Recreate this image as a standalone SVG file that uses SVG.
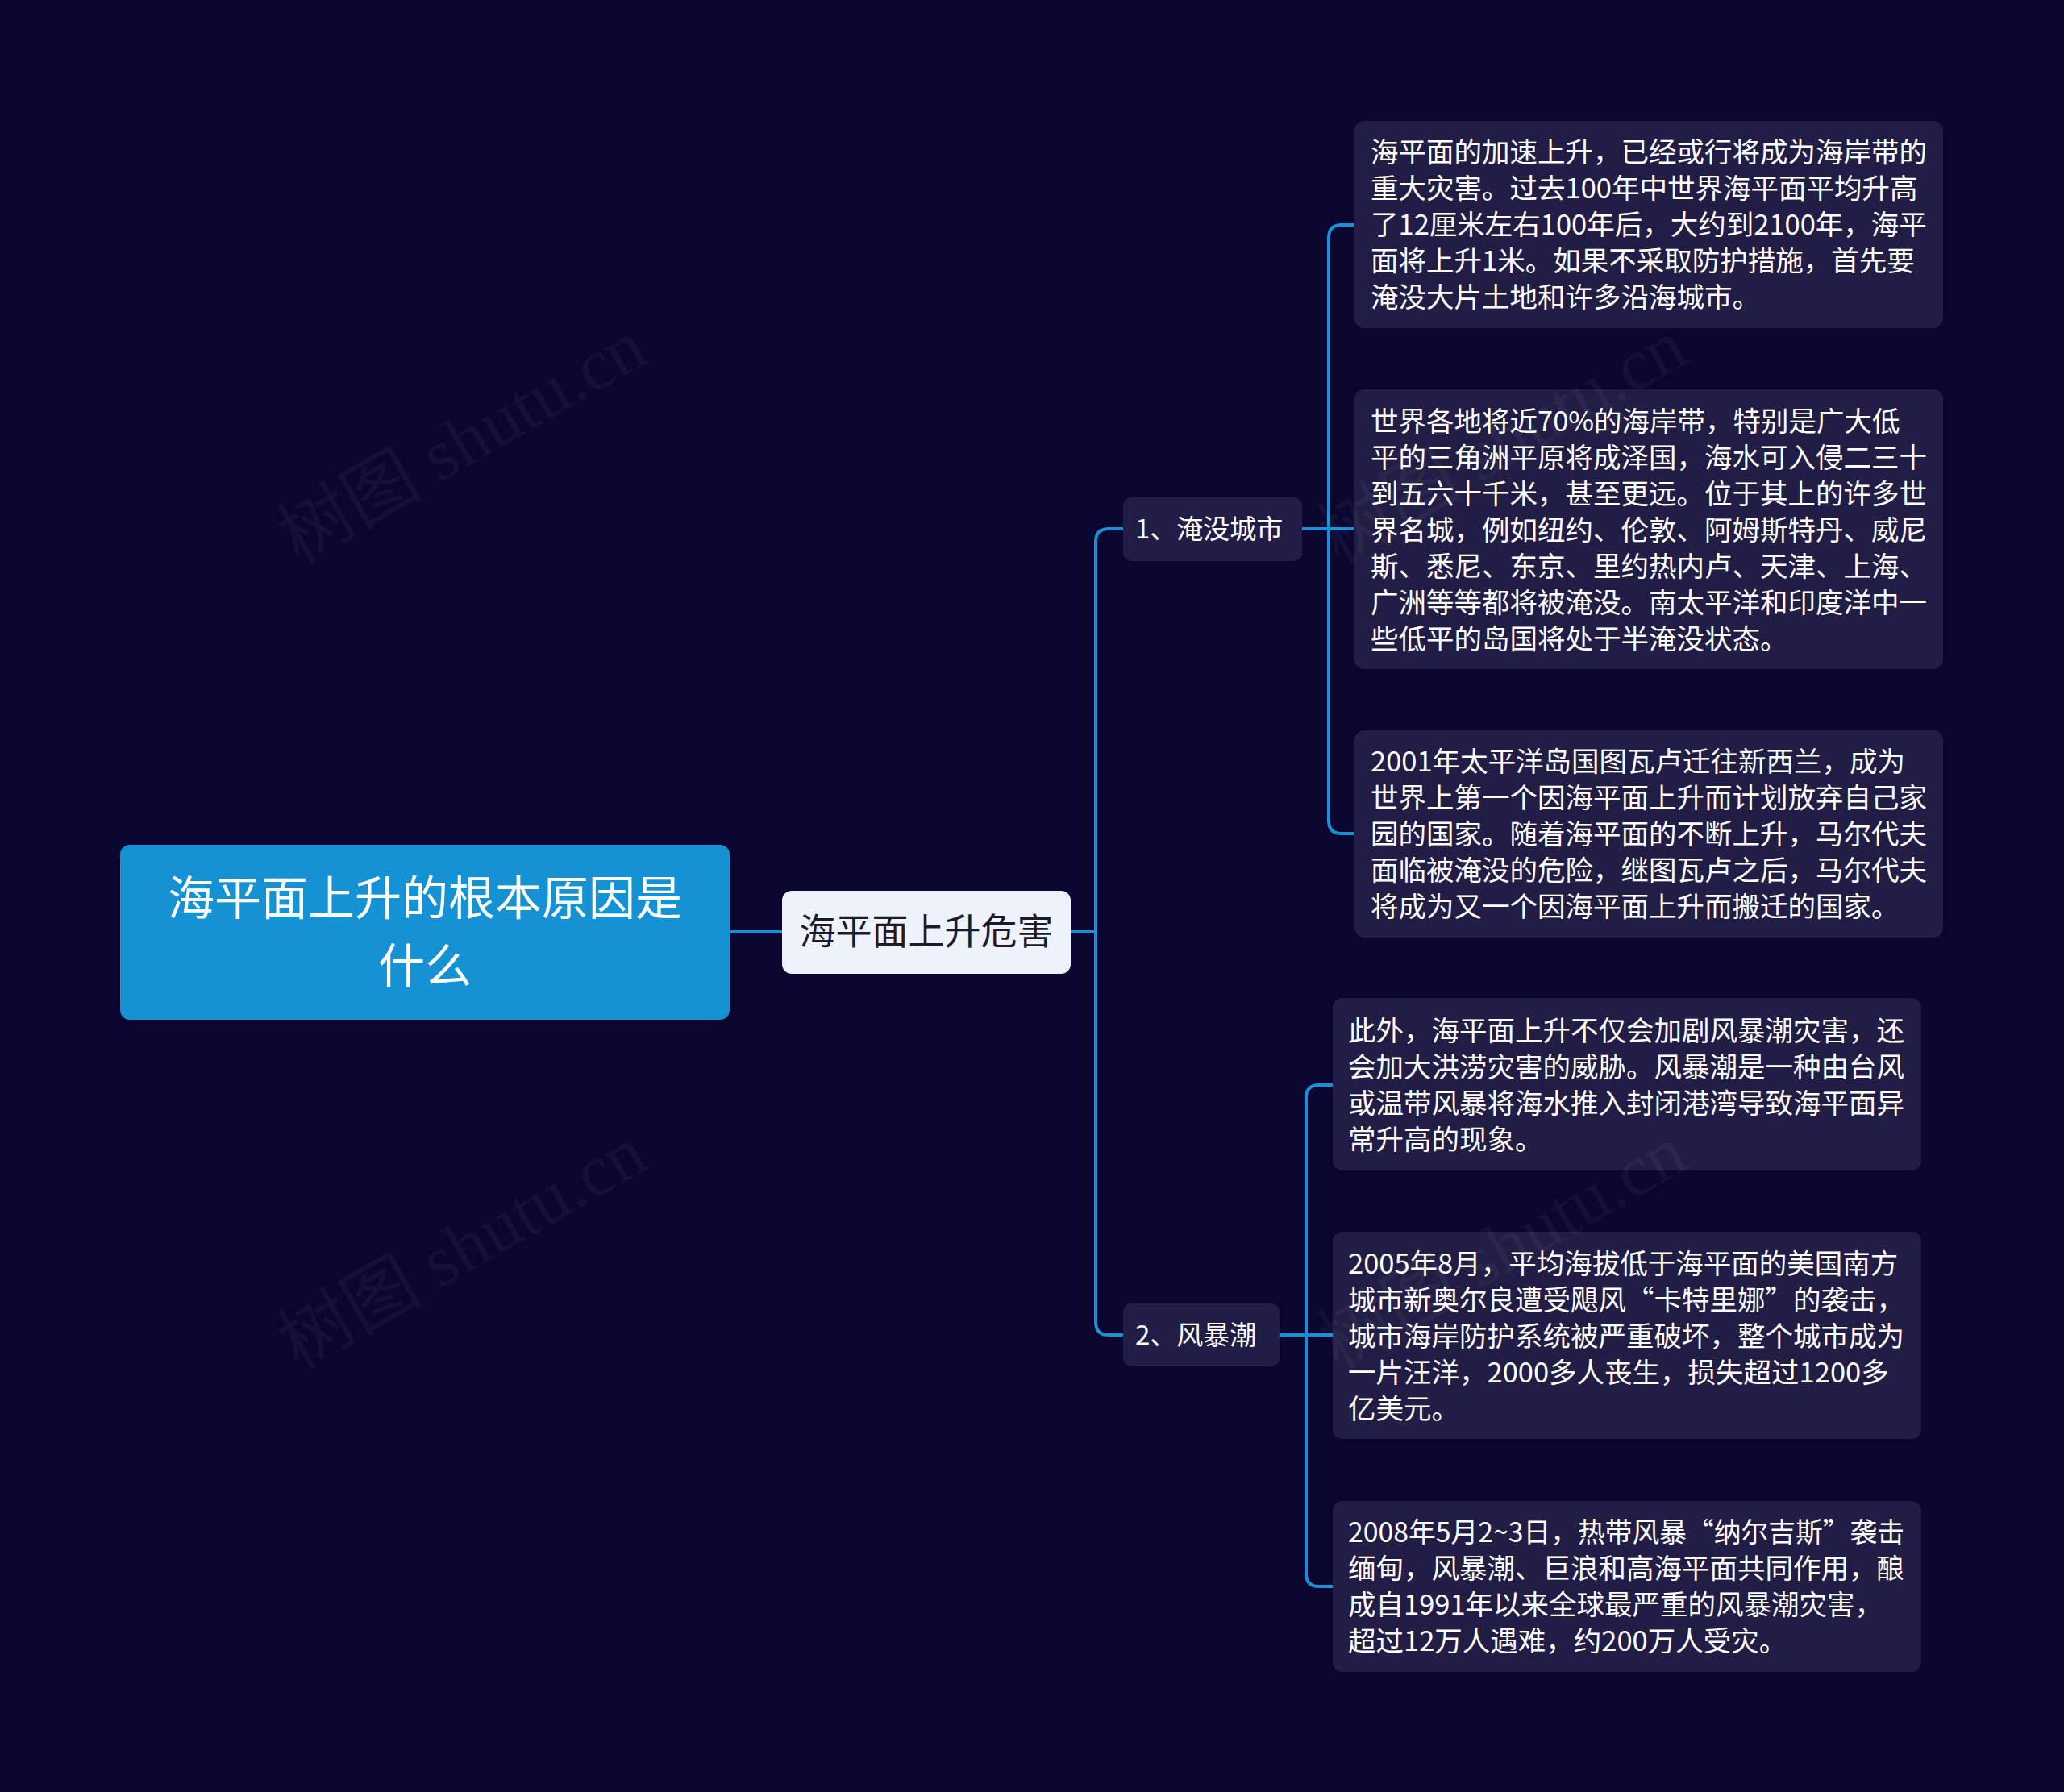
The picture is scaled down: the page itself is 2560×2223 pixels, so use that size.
<svg xmlns="http://www.w3.org/2000/svg" width="2560" height="2223" viewBox="0 0 2560 2223">
<style>
.t{font-family:"PingFang SC","Noto Sans CJK SC",sans-serif}
.leaf{fill:#221d45}
.lt{font-size:34.5px;fill:#ffffff}
.st{font-size:33px;fill:#ffffff}
.c{fill:none;stroke:#1a8fd6;stroke-width:4}
.wm{font-family:"Liberation Serif","Noto Sans CJK SC",serif;font-size:90px;fill:#ffffff;opacity:0.04}
</style>
<rect width="2560" height="2223" fill="#0a0630"/>
<g id="connectors">
<path class="c" d="M905 1156H970"/>
<path class="c" d="M1328 1156H1359"/>
<path class="c" d="M1393 656H1375Q1359 656 1359 672V1640Q1359 1656 1375 1656H1393"/>
<path class="c" d="M1615 656H1680"/>
<path class="c" d="M1680 279H1664Q1648 279 1648 295V1018Q1648 1034 1664 1034H1680"/>
<path class="c" d="M1587 1656H1653"/>
<path class="c" d="M1653 1346H1636Q1620 1346 1620 1362V1952Q1620 1968 1636 1968H1653"/>
</g>
<g id="root"><rect x="149" y="1048" width="756" height="217" rx="12" fill="#1592d4"/>
<text class="t" font-size="58" fill="#fff" text-anchor="middle"><tspan x="527" y="1135">海平面上升的根本原因是</tspan><tspan x="527" y="1219">什么</tspan></text></g>
<g id="main"><rect x="970" y="1105" width="358" height="103" rx="12" fill="#eef3fb"/>
<text class="t" font-size="45" fill="#1b1b2b" text-anchor="middle" x="1149" y="1172">海平面上升危害</text></g>
<g id="sub1"><rect x="1393" y="617" width="222" height="79" rx="10" class="leaf"/>
<text class="t st" x="1408" y="668">1、淹没城市</text></g>
<g id="sub2"><rect x="1393" y="1617" width="194" height="78" rx="10" class="leaf"/>
<text class="t st" x="1408" y="1668">2、风暴潮</text></g>
<g id="leaf1"><rect x="1680" y="150" width="730" height="257" rx="12" class="leaf"/>
<text class="t lt"><tspan x="1700" y="201">海平面的加速上升，已经或行将成为海岸带的</tspan><tspan x="1700" y="246">重大灾害。过去100年中世界海平面平均升高</tspan><tspan x="1700" y="291">了12厘米左右100年后，大约到2100年，海平</tspan><tspan x="1700" y="336">面将上升1米。如果不采取防护措施，首先要</tspan><tspan x="1700" y="381">淹没大片土地和许多沿海城市。</tspan></text></g>
<g id="leaf2"><rect x="1680" y="483" width="730" height="347" rx="12" class="leaf"/>
<text class="t lt"><tspan x="1700" y="535">世界各地将近70%的海岸带，特别是广大低</tspan><tspan x="1700" y="580">平的三角洲平原将成泽国，海水可入侵二三十</tspan><tspan x="1700" y="625">到五六十千米，甚至更远。位于其上的许多世</tspan><tspan x="1700" y="670">界名城，例如纽约、伦敦、阿姆斯特丹、威尼</tspan><tspan x="1700" y="715">斯、悉尼、东京、里约热内卢、天津、上海、</tspan><tspan x="1700" y="760">广洲等等都将被淹没。南太平洋和印度洋中一</tspan><tspan x="1700" y="805">些低平的岛国将处于半淹没状态。</tspan></text></g>
<g id="leaf3"><rect x="1680" y="906" width="730" height="257" rx="12" class="leaf"/>
<text class="t lt"><tspan x="1700" y="957">2001年太平洋岛国图瓦卢迁往新西兰，成为</tspan><tspan x="1700" y="1002">世界上第一个因海平面上升而计划放弃自己家</tspan><tspan x="1700" y="1047">园的国家。随着海平面的不断上升，马尔代夫</tspan><tspan x="1700" y="1092">面临被淹没的危险，继图瓦卢之后，马尔代夫</tspan><tspan x="1700" y="1137">将成为又一个因海平面上升而搬迁的国家。</tspan></text></g>
<g id="leaf4"><rect x="1653" y="1238" width="730" height="214" rx="12" class="leaf"/>
<text class="t lt"><tspan x="1672" y="1291">此外，海平面上升不仅会加剧风暴潮灾害，还</tspan><tspan x="1672" y="1336">会加大洪涝灾害的威胁。风暴潮是一种由台风</tspan><tspan x="1672" y="1381">或温带风暴将海水推入封闭港湾导致海平面异</tspan><tspan x="1672" y="1426">常升高的现象。</tspan></text></g>
<g id="leaf5"><rect x="1653" y="1528" width="730" height="257" rx="12" class="leaf"/>
<text class="t lt"><tspan x="1672" y="1580">2005年8月，平均海拔低于海平面的美国南方</tspan><tspan x="1672" y="1625">城市新奥尔良遭受飓风“卡特里娜”的袭击，</tspan><tspan x="1672" y="1670">城市海岸防护系统被严重破坏，整个城市成为</tspan><tspan x="1672" y="1715">一片汪洋，2000多人丧生，损失超过1200多</tspan><tspan x="1672" y="1760">亿美元。</tspan></text></g>
<g id="leaf6"><rect x="1653" y="1862" width="730" height="212" rx="12" class="leaf"/>
<text class="t lt"><tspan x="1672" y="1913" textLength="690" lengthAdjust="spacingAndGlyphs">2008年5月2~3日，热带风暴“纳尔吉斯”袭击</tspan><tspan x="1672" y="1958">缅甸，风暴潮、巨浪和高海平面共同作用，酿</tspan><tspan x="1672" y="2003">成自1991年以来全球最严重的风暴潮灾害，</tspan><tspan x="1672" y="2048">超过12万人遇难，约200万人受灾。</tspan></text></g>
<g id="watermarks">
<text class="wm" transform="translate(370 700) rotate(-30)">树图 shutu.cn</text>
<text class="wm" transform="translate(370 1700) rotate(-30)">树图 shutu.cn</text>
<text class="wm" transform="translate(1660 700) rotate(-30)">树图 shutu.cn</text>
<text class="wm" transform="translate(1660 1700) rotate(-30)">树图 shutu.cn</text>
</g>
</svg>
